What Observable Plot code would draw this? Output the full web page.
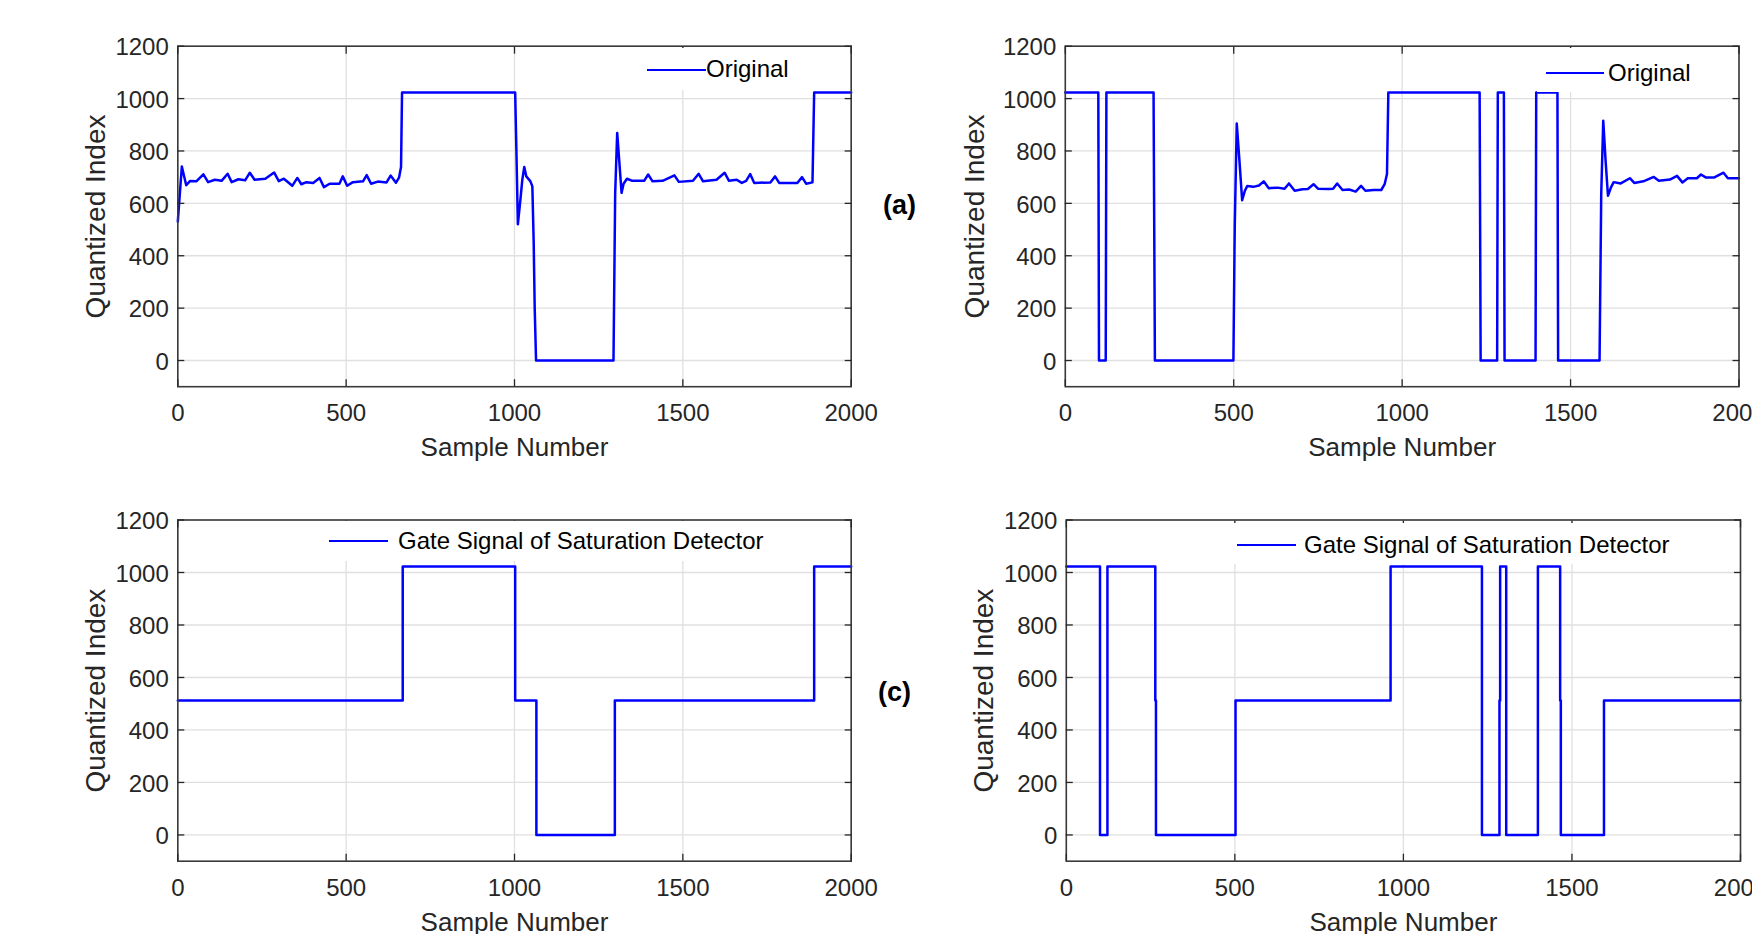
<!DOCTYPE html>
<html>
<head>
<meta charset="utf-8">
<script src="https://cdn.jsdelivr.net/npm/d3@7"></script>
<script src="https://cdn.jsdelivr.net/npm/@observablehq/plot@0.6"></script>
<style>
  html, body { margin: 0; padding: 0; background: #fff; overflow: hidden; }
  #root { position: relative; width: 1752px; height: 934px; overflow: hidden; background: #fff; }
  .panel { position: absolute; }
  .panel svg { max-width: none !important; display: block; overflow: visible; }
  .leg { position: absolute; background: #fff; }
  .leg .sw { position: absolute; height: 0; border-top: 2.5px solid #0000ff; }
  .leg .lt { position: absolute; white-space: nowrap; font-family: 'Liberation Sans', Arial, sans-serif; font-size: 24px; line-height: 24px; color: #000; }
  .tag { position: absolute; width: 100px; text-align: center; font-family: 'Liberation Sans', Arial, sans-serif; font-weight: bold; font-size: 27px; line-height: 27px; color: #000; }
</style>
</head>
<body>
<div id="root"></div>
<script>
// ---------- data ----------
const xTicks = [0, 500, 1000, 1500, 2000];
const yTicks = [0, 200, 400, 600, 800, 1000, 1200];

// (a) Original
const aX = [0,12,25,36,55,76,90,110,130,148,160,180,200,214,228,260,286,300,315,340,355,367,382,402,421,434,451,480,490,503,520,550,561,574,594,620,632,648,657,663,666,1002,1005,1010,1018,1023,1029,1035,1047,1053,1057,1060,1064,1294,1299,1305,1311,1318,1324,1334,1350,1385,1397,1410,1440,1475,1488,1530,1547,1560,1600,1624,1637,1660,1675,1688,1700,1712,1760,1774,1786,1840,1854,1866,1885,1890,2000];
const aY = [530,741,669,685,684,711,681,690,686,713,681,692,688,717,690,694,718,685,694,667,697,673,681,678,697,662,675,675,703,667,681,684,708,675,683,680,706,679,698,739,1023,1023,841,520,620,688,739,703,685,665,450,200,0,0,637,869,764,640,675,694,686,686,710,684,686,707,682,686,713,684,690,717,686,690,678,686,712,678,680,703,678,678,700,675,680,1023,1023];

// (b) Original
const bX = [0,98,100,120,122,262,266,499,503,509,517,525,533,540,558,575,589,604,630,651,664,681,704,720,737,750,783,795,807,823,843,862,878,891,915,938,948,955,959,1230,1233,1282,1284,1302,1304,1396,1398,1461,1463,1586,1591,1597,1604,1611,1620,1628,1649,1676,1689,1716,1747,1762,1795,1816,1832,1848,1875,1887,1901,1927,1954,1967,2000];
const bY = [1023,1023,0,0,1023,1023,0,0,508,905,762,612,648,666,663,668,684,658,660,656,676,648,654,655,673,656,655,656,676,651,653,645,667,648,651,651,673,712,1023,1023,0,0,1023,1023,0,0,1023,1023,0,0,635,915,762,629,661,681,676,696,678,684,701,686,691,705,680,696,696,710,699,699,717,696,696];

// (c) Gate signal (step changes)
const cX = [0, 668, 1002, 1065, 1298, 1890, 2000];
const cY = [512, 1023, 512, 0, 512, 1023, 1023];

// (d) Gate signal (step changes)
const dX = [0, 100, 122, 264, 266, 502, 962, 1233, 1285, 1287, 1305, 1399, 1465, 1467, 1595, 2000];
const dY = [1023, 0, 1023, 512, 0, 512, 1023, 0, 512, 1023, 0, 1023, 512, 0, 512, 512];

const legendA = "Original";
const legendC = "Gate Signal of Saturation Detector";
const xLabel = "Sample Number";
const yLabel = "Quantized Index";

// ---------- drawing ----------
const root = document.getElementById("root");
const toRows = (xs, ys) => xs.map((x, i) => ({x, y: ys[i]}));
const FONT = "'Liberation Sans', Arial, sans-serif";
const plain = d => String(d);

function panel(o) {
  const chart = Plot.plot({
    width: o.w, height: o.h,
    marginLeft: o.fl - o.left, marginRight: o.left + o.w - o.fr,
    marginTop: o.ft - o.top, marginBottom: o.top + o.h - o.fb,
    style: {fontFamily: FONT, fontSize: "24px", color: "#262626", background: "transparent", overflow: "visible"},
    x: {domain: [0, 2000]},
    y: {domain: [-100, 1200]},
    marks: [
      Plot.gridX(xTicks, {stroke: "#e0e0e0", strokeOpacity: 1, strokeWidth: 1.3}),
      Plot.gridY(yTicks, {stroke: "#e0e0e0", strokeOpacity: 1, strokeWidth: 1.3}),
      Plot.line(o.data, {x: "x", y: "y", curve: o.curve, stroke: "#0000ff", strokeWidth: 2.5}),
      Plot.frame({stroke: "#3a3a3a", strokeWidth: 1.6}),
      Plot.axisX(xTicks, {anchor: "bottom", tickSize: 0, tickPadding: o.xPad, tickFormat: plain, label: null, fontSize: 24}),
      Plot.axisX(xTicks, {anchor: "bottom", tickSize: 7, dy: -7, fill: "none", label: null, strokeWidth: 1.3}),
      Plot.axisX(xTicks, {anchor: "top", tickSize: 7, dy: 7, fill: "none", label: null, strokeWidth: 1.3}),
      Plot.axisY(yTicks, {anchor: "left", tickSize: 0, tickPadding: 9, dy: 1.5, tickFormat: plain, label: null, fontSize: 24}),
      Plot.axisY(yTicks, {anchor: "left", tickSize: 7, dx: 7, fill: "none", label: null, strokeWidth: 1.3}),
      Plot.axisY(yTicks, {anchor: "right", tickSize: 7, dx: -7, fill: "none", label: null, strokeWidth: 1.3}),
      Plot.text([xLabel], {text: d => d, frameAnchor: "bottom", dy: o.xLabDy, textAnchor: "middle", lineAnchor: "middle", fontSize: 26, fill: "#262626"}),
      Plot.text([yLabel], {text: d => d, frameAnchor: "left", dx: o.yLabDx, rotate: -90, textAnchor: "middle", lineAnchor: "middle", fontSize: 28, fill: "#262626"})
    ]
  });
  const div = document.createElement("div");
  div.className = "panel";
  div.style.left = o.left + "px";
  div.style.top = o.top + "px";
  div.style.width = o.w + "px";
  div.style.height = o.h + "px";
  div.appendChild(chart);
  root.appendChild(div);

  // legend (white box over grid, line swatch + label)
  const L = o.legend;
  const box = document.createElement("div");
  box.className = "leg";
  box.style.left = L.box[0] + "px";
  box.style.top = L.box[1] + "px";
  box.style.width = (L.box[2] - L.box[0]) + "px";
  box.style.height = (L.box[3] - L.box[1]) + "px";
  const sw = document.createElement("div");
  sw.className = "sw";
  sw.style.left = (L.line[0] - L.box[0]) + "px";
  sw.style.width = (L.line[1] - L.line[0]) + "px";
  sw.style.top = (L.line[2] - L.box[1] - 1.25) + "px";
  const lt = document.createElement("span");
  lt.className = "lt";
  lt.textContent = L.text;
  lt.style.left = (L.textX - L.box[0]) + "px";
  lt.style.top = (L.textY - 11.7 - L.box[1]) + "px";
  box.appendChild(sw);
  box.appendChild(lt);
  root.appendChild(box);
}

panel({data: toRows(aX, aY), curve: "linear",
  left: 0, top: 0, w: 876, h: 467, fl: 177.3, fr: 850.7, ft: 45.7, fb: 386.2,
  xPad: 17, xLabDy: 61.3, yLabDx: -81.3,
  legend: {box: [638, 48, 800, 90], line: [647, 706, 70], text: legendA, textX: 706, textY: 69}});

panel({data: toRows(bX, bY), curve: "linear",
  left: 876, top: 0, w: 876, h: 467, fl: 1064.8, fr: 1738.5, ft: 45.7, fb: 386.2,
  xPad: 17, xLabDy: 61.3, yLabDx: -89.8,
  legend: {box: [1537, 48, 1698, 92], line: [1546, 1604, 73], text: legendA, textX: 1608, textY: 73}});

panel({data: toRows(cX, cY), curve: "step-after",
  left: 0, top: 467, w: 876, h: 467, fl: 177.3, fr: 850.7, ft: 519.5, fb: 860.7,
  xPad: 17.3, xLabDy: 61, yLabDx: -81.3,
  legend: {box: [320, 521, 766, 561], line: [329, 388, 541], text: legendC, textX: 398, textY: 541}});

panel({data: toRows(dX, dY), curve: "step-after",
  left: 876, top: 467, w: 876, h: 467, fl: 1065.8, fr: 1740, ft: 519.5, fb: 860.7,
  xPad: 17.3, xLabDy: 61, yLabDx: -81.8,
  legend: {box: [1228, 523, 1676, 564], line: [1237, 1296, 545], text: legendC, textX: 1304, textY: 545}});

// panel tags
function tag(txt, cx, cy) {
  const t = document.createElement("div");
  t.className = "tag";
  t.textContent = txt;
  t.style.left = (cx - 50) + "px";
  t.style.top = (cy - 15.9) + "px";
  root.appendChild(t);
}
tag("(a)", 899.5, 208);
tag("(c)", 894.5, 695);
</script>
</body>
</html>
